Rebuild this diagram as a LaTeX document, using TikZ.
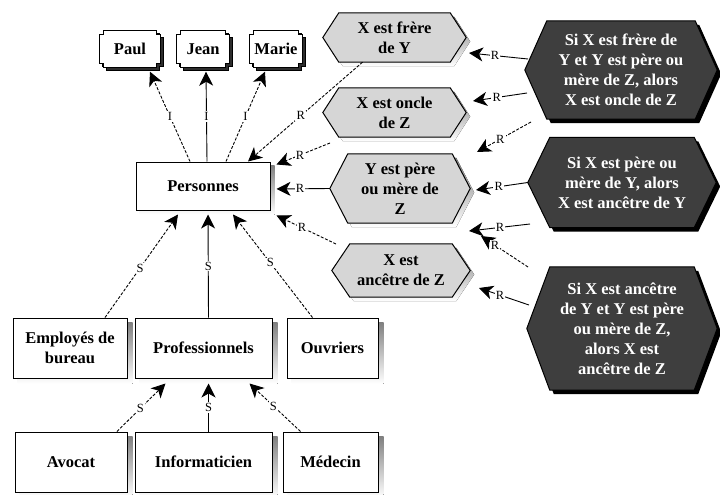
\documentclass[tikz,border=0pt]{standalone}
\usepackage{fontspec}
\setmainfont{Liberation Serif}
\usetikzlibrary{arrows.meta,backgrounds}

\definecolor{hexlight}{RGB}{214,214,214}
\definecolor{hexdark}{RGB}{62,62,62}
\definecolor{shade}{RGB}{45,45,45}

% dark offset shadow behind a rectangular node
\newcommand\boxshadow[2]{%
  \begin{scope}[on background layer]
    \fill[shade] ([xshift=#2,yshift=-#2]#1.north west) rectangle ([xshift=#2,yshift=-#2]#1.south east);
  \end{scope}}

% rectangle with square notches cut into its corners, plus shadow
\newcommand\notchframe[2]{%
  \begin{scope}[on background layer]
    \foreach \sh/\st in {3pt/shade, 0pt/white}{
      \path[fill=\st, draw=black, line width=1pt, transform canvas={shift={(\sh,-\sh)}}]
        ([xshift=#2]#1.north west) -- ([xshift=-#2]#1.north east)
        -- ([xshift=-#2,yshift=-#2]#1.north east) -- ([yshift=-#2]#1.north east)
        -- ([yshift=#2]#1.south east) -- ([xshift=-#2,yshift=#2]#1.south east)
        -- ([xshift=-#2]#1.south east) -- ([xshift=#2]#1.south west)
        -- ([xshift=#2,yshift=#2]#1.south west) -- ([yshift=#2]#1.south west)
        -- ([yshift=-#2]#1.north west) -- ([xshift=#2,yshift=-#2]#1.north west) -- cycle;
    }
  \end{scope}}

% hexagon around a node: flat top and bottom, pointed ends of depth #2
\newcommand\hexframe[4]{%
  \begin{scope}[on background layer]
    \fill[#4, transform canvas={shift={(4pt,-4pt)}}]
      (#1.north west) -- (#1.north east) -- ([xshift=#2]#1.east) -- (#1.south east)
      -- (#1.south west) -- ([xshift=-#2]#1.west) -- cycle;
    \draw[line width=1pt, fill=#3]
      (#1.north west) -- (#1.north east) -- ([xshift=#2]#1.east) -- (#1.south east)
      -- (#1.south west) -- ([xshift=-#2]#1.west) -- cycle;
  \end{scope}}

\begin{document}
\begin{tikzpicture}[x=1pt,y=-1pt,
  every node/.style={font=\fontsize{16.5}{20}\selectfont\bfseries, inner sep=0pt, align=center},
  box/.style={draw, line width=1pt, fill=white, minimum height=60pt},
  name box/.style={minimum height=37pt},
  hexa/.style={},
  rulehex/.style={text=white},
  lab/.style={font=\fontsize{12.5}{13}\selectfont, fill=white, inner sep=1.2pt},
  link/.style={line width=0.9pt, -{Stealth[length=14pt,width=14pt,inset=4pt]}},
  slant link/.style={link, dash pattern=on 3pt off 1.6pt},
]
\useasboundingbox (0,0) rectangle (720,495);

% individuals
\node[name box, minimum width=60pt] (paul)  at (130,49) {Paul};
\node[name box, minimum width=52pt] (jean)  at (203,49) {Jean};
\node[name box, minimum width=52pt] (marie) at (276,49) {Marie};
\notchframe{paul}{4pt}
\notchframe{jean}{4pt}
\notchframe{marie}{4pt}

% concept hierarchy
\node[box, minimum width=134pt, minimum height=48pt] (pers) at (203,186) {Personnes};
\boxshadow{pers}{4pt}
\node[box, minimum width=114pt] (emp)  at (70,348)    {Employés de\\bureau};
\node[box, minimum width=137pt] (prof) at (203.5,348) {Professionnels};
\node[box, minimum width=91pt]  (ouv)  at (332.5,348) {Ouvriers};
\node[box, minimum width=112pt] (avo)  at (71,462)    {Avocat};
\node[box, minimum width=137pt] (inf)  at (203.5,462) {Informaticien};
\node[box, minimum width=95pt]  (med)  at (330.5,462) {Médecin};
\foreach \b in {emp,prof,ouv,avo,inf,med}{\boxshadow{\b}{5pt}}

% relations
\node[hexa, minimum width=111pt, minimum height=49pt] (h1) at (394.5,37.5)  {X est frère\\de Y};
\node[hexa, minimum width=111pt, minimum height=49pt] (h2) at (394.5,112.5) {X est oncle\\de Z};
\node[hexa, minimum width=104pt, minimum height=69pt] (h3) at (400,188.5)   {Y est père\\ou mère de\\Z};
\node[hexa, minimum width=102pt, minimum height=53pt] (h4) at (401,270.5)   {X est\\ancêtre de Z};
\hexframe{h1}{16pt}{hexlight}{shade}
\hexframe{h2}{16pt}{hexlight}{shade}
\hexframe{h3}{18pt}{hexlight}{shade}
\hexframe{h4}{18pt}{hexlight}{shade}

% rules
\node[rulehex, minimum width=148pt, minimum height=98pt]  (d1) at (621,70)    {Si X est frère de\\Y et Y est père ou\\mère de Z, alors\\X est oncle de Z};
\node[rulehex, minimum width=144pt, minimum height=90pt]  (d2) at (622,182.5) {Si X est père ou\\mère de Y, alors\\X est ancêtre de Y};
\node[rulehex, minimum width=144pt, minimum height=123pt] (d3) at (622,328.5) {Si X est ancêtre\\de Y et Y est père\\ou mère de Z,\\alors X est\\ancêtre de Z};
\hexframe{d1}{22pt}{hexdark}{black}
\hexframe{d2}{22pt}{hexdark}{black}
\hexframe{d3}{23pt}{hexdark}{black}

% loose ends of the rule links
\coordinate (r2s)  at (330,143);
\coordinate (r4s)  at (336,244);
\coordinate (r5s)  at (528,59);  \coordinate (r5e)  at (469,53);
\coordinate (r6s)  at (527,93);  \coordinate (r6e)  at (473,101);
\coordinate (r7s)  at (531,122); \coordinate (r7e)  at (477,152);
\coordinate (r8e)  at (476,190);
\coordinate (r9s)  at (530,224); \coordinate (r9e)  at (469,231);
\coordinate (r10s) at (528,267); \coordinate (r10e) at (481,236);
\coordinate (r11s) at (529,305); \coordinate (r11e) at (479,288);

% instance links
\draw[slant link] ([xshift=-13pt]pers.north) -- node[lab]{I} ([xshift=20pt,yshift=-4pt]paul.south);
\draw[link]       ([xshift=4pt]pers.north)   -- node[lab]{I} ([xshift=3pt,yshift=-4pt]jean.south);
\draw[slant link] ([xshift=23pt]pers.north)  -- node[lab]{I} ([xshift=-11pt,yshift=-4pt]marie.south);

% relation links into Personnes
\draw[slant link] ([xshift=-32pt]h1.south) -- node[lab,pos=0.54]{R} ([xshift=45pt]pers.north);
\draw[slant link] (r2s) -- node[lab,pos=0.56]{R} ([xshift=6pt,yshift=-3pt]pers.north east);
\draw[link]       ([xshift=-18pt]h3.west) -- node[lab,pos=0.56]{R} ([xshift=6pt,yshift=-3pt]pers.east);
\draw[slant link] (r4s) -- node[lab,pos=0.57]{R} ([xshift=6pt,yshift=-5pt]pers.south east);

% rule links into relations
\draw[link]       (r5s) -- node[lab,pos=0.56]{R} (r5e);
\draw[link]       (r6s) -- node[lab,pos=0.56]{R} (r6e);
\draw[slant link] (r7s) -- node[lab,pos=0.57]{R} (r7e);
\draw[link]       ([xshift=-22pt]d2.west) -- node[lab,pos=0.56]{R} (r8e);
\draw[link]       (r9s) -- node[lab,pos=0.49]{R} (r9e);
\draw[slant link] (r10s) -- node[lab,pos=0.70]{R} (r10e);
\draw[link]       (r11s) -- node[lab,pos=0.58]{R} (r11e);

% subtype links
\draw[slant link] ([xshift=35pt]emp.north)  -- node[lab,pos=0.48]{S} ([xshift=-25pt,yshift=-4pt]pers.south);
\draw[link]       ([xshift=5pt]prof.north)  -- node[lab]{S}          ([xshift=5pt,yshift=-4pt]pers.south);
\draw[slant link] ([xshift=-20pt]ouv.north) -- node[lab,pos=0.53]{S} ([xshift=30pt,yshift=-4pt]pers.south);
\draw[slant link] ([xshift=46pt]avo.north)  -- node[lab,pos=0.48]{S} ([xshift=-38pt,yshift=-5pt]prof.south);
\draw[link]       ([xshift=5pt]inf.north)   -- node[lab]{S}          ([xshift=5pt,yshift=-5pt]prof.south);
\draw[slant link] ([xshift=-30pt]med.north) -- node[lab,pos=0.53]{S} ([xshift=46pt,yshift=-5pt]prof.south);
\end{tikzpicture}
\end{document}
